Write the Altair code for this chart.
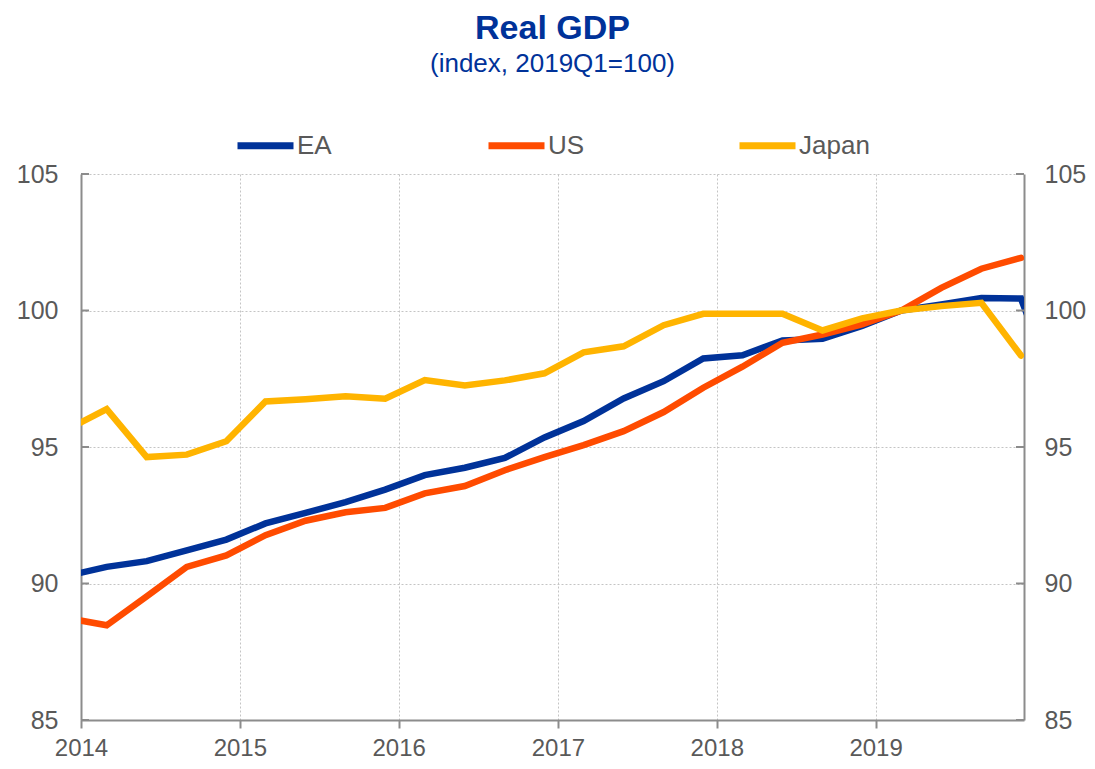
import altair as alt
import pandas as pd

# Quarterly observations (dated at the first day of the quarter's last month)
dates = [
    "2013-12-01",
    "2014-03-01", "2014-06-01", "2014-09-01", "2014-12-01",
    "2015-03-01", "2015-06-01", "2015-09-01", "2015-12-01",
    "2016-03-01", "2016-06-01", "2016-09-01", "2016-12-01",
    "2017-03-01", "2017-06-01", "2017-09-01", "2017-12-01",
    "2018-03-01", "2018-06-01", "2018-09-01", "2018-12-01",
    "2019-03-01", "2019-06-01", "2019-09-01", "2019-12-01",
]
ea = [90.28,
      90.61, 90.82, 91.21, 91.61,
      92.20, 92.59, 92.98, 93.44,
      93.97, 94.24, 94.60, 95.35,
      95.95, 96.78, 97.41, 98.24,
      98.36, 98.90, 98.96, 99.43,
      100.00, 100.22, 100.46, 100.44]
ea_extra_dates = ["2020-03-01"]
ea_extra = [96.6]
us = [88.73,
      88.47, 89.53, 90.61, 91.03,
      91.77, 92.30, 92.61, 92.77,
      93.30, 93.57, 94.15, 94.63,
      95.07, 95.58, 96.28, 97.17,
      97.94, 98.82, 99.12, 99.49,
      100.00, 100.83, 101.53, 101.93]
japan = [95.65,
         96.39, 94.63, 94.72, 95.21,
         96.67, 96.75, 96.86, 96.77,
         97.45, 97.25, 97.44, 97.70,
         98.47, 98.69, 99.46, 99.88,
         99.88, 99.88, 99.27, 99.71,
         100.00, 100.16, 100.28, 98.35]

series_names = ["EA", "US", "Japan"]
series_colors = ["#003299", "#FF4B00", "#FFB400"]
year_ticks = [2014, 2015, 2016, 2017, 2018, 2019]
y_ticks = [85, 90, 95, 100, 105]

rows = []
for d, v in zip(dates + ea_extra_dates, ea + ea_extra):
    rows.append({"date": d, "series": "EA", "value": v})
for d, v in zip(dates, us):
    rows.append({"date": d, "series": "US", "value": v})
for d, v in zip(dates, japan):
    rows.append({"date": d, "series": "Japan", "value": v})
df = pd.DataFrame(rows)
ticks_df = pd.DataFrame({"v": y_ticks})

FONT = "Liberation Sans"
GREY = "#595959"
AXIS_GREY = "#8c8c8c"
GRID = "#c4c4c4"
W, H = 943, 546

x_scale = alt.Scale(
    type="utc",
    domain=[alt.DateTime(year=2014, month=1, date=1, utc=True),
            alt.DateTime(year=2019, month=12, date=8, utc=True)],
)
y_scale = alt.Scale(domain=[85, 105], nice=False, zero=False)

x_axis = alt.Axis(
    values=[alt.DateTime(year=y, month=1, date=1, utc=True) for y in year_ticks],
    format="%Y", labelFontSize=24, labelFont=FONT, labelColor=GREY,
    labelPadding=8, labelFlush=False, labelOverlap=False,
    grid=True, gridDash=[2, 2], gridColor=GRID, gridWidth=1,
    domainColor=AXIS_GREY, domainWidth=2,
    tickColor=AXIS_GREY, tickWidth=2, tickSize=8,
)
y_axis_left = alt.Axis(
    values=y_ticks, orient="left", labelFontSize=25, labelFont=FONT,
    labelColor=GREY, labelPadding=23, ticks=False,
    grid=True, gridDash=[2, 2], gridColor=GRID, gridWidth=1,
    domainColor=AXIS_GREY, domainWidth=2,
)
y_axis_right = alt.Axis(
    values=y_ticks, orient="right", labelFontSize=25, labelFont=FONT,
    labelColor=GREY, labelPadding=20, ticks=False, grid=False,
    domainColor=AXIS_GREY, domainWidth=2,
)

color = alt.Color(
    "series:N",
    scale=alt.Scale(domain=series_names, range=series_colors),
    legend=alt.Legend(
        title=None, orient="none", legendX=153, legendY=-60,
        direction="horizontal", columns=3, gridAlign="all",
        columnPadding=106, padding=0,
        symbolType="stroke", symbolSize=3136, symbolStrokeWidth=7,
        labelFontSize=26, labelFont=FONT, labelColor=GREY,
        labelOffset=0, labelLimit=300,
    ),
)

layers = []
for name in series_names:
    layers.append(
        alt.Chart(df)
        .transform_filter(alt.datum.series == name)
        .mark_line(strokeWidth=6.5, clip=True, strokeCap="round")
        .encode(
            x=alt.X("date:T", scale=x_scale, axis=x_axis, title=None),
            y=alt.Y("value:Q", scale=y_scale, axis=y_axis_left, title=None),
            color=color,
        )
    )

left_ticks = alt.Chart(ticks_df).mark_rule(color=AXIS_GREY, strokeWidth=2).encode(
    y=alt.Y("v:Q", scale=y_scale, axis=y_axis_left, title=None),
    x=alt.value(0), x2=alt.value(8),
)
right_ticks = alt.Chart(ticks_df).mark_rule(color=AXIS_GREY, strokeWidth=2).encode(
    y=alt.Y("v:Q", scale=y_scale, axis=y_axis_right, title=None),
    x=alt.value(W - 8), x2=alt.value(W),
)

main = alt.layer(left_ticks, *layers)
chart = (
    alt.layer(main, right_ticks)
    .resolve_axis(y="independent")
    .resolve_scale(y="shared")
    .properties(
        width=W, height=H,
        autosize=alt.AutoSizeParams(type="none"),
        padding={"left": 73, "top": 166, "right": 63, "bottom": 41},
        title=alt.TitleParams(
            text="Real GDP", subtitle="(index, 2019Q1=100)",
            font=FONT, fontSize=34, fontWeight="bold", color="#003299",
            subtitleFont=FONT, subtitleFontSize=26, subtitleColor="#003299",
            subtitlePadding=5, anchor="middle", frame="group", offset=37,
        ),
    )
    .configure_view(stroke=None)
)

chart.save("out.html", embed_options={"renderer": "svg", "actions": False})
